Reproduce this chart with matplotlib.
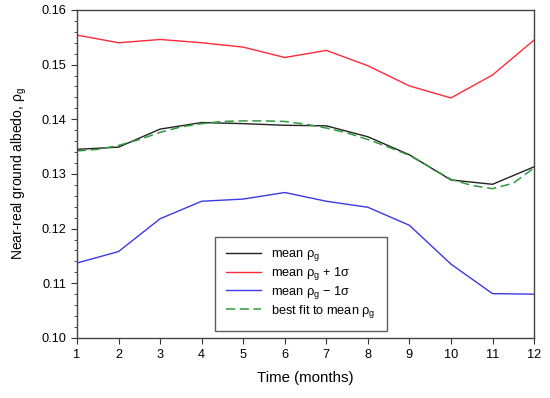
import numpy as np
import matplotlib.pyplot as plt
from matplotlib.ticker import MultipleLocator

plt.rcParams['font.family'] = ['Liberation Sans', 'DejaVu Sans']
plt.rcParams['mathtext.fontset'] = 'custom'
plt.rcParams['mathtext.rm'] = 'Liberation Sans'
plt.rcParams['mathtext.it'] = 'Liberation Sans'

months = np.arange(1, 13)
mean_rho = [0.1345, 0.1349, 0.1382, 0.1394, 0.1392, 0.1389, 0.1388, 0.1368, 0.1335, 0.1289, 0.1281, 0.1313]
plus_sigma = [0.1554, 0.1540, 0.1546, 0.1540, 0.1532, 0.1513, 0.1526, 0.1498, 0.1461, 0.1439, 0.1481, 0.1545]
minus_sigma = [0.1137, 0.1158, 0.1218, 0.1250, 0.1254, 0.1266, 0.1250, 0.1239, 0.1206, 0.1135, 0.1081, 0.1080]

# best fit read at half-month steps
fit_t = np.arange(1, 12.5, 0.5)
fit_rho = [0.1342, 0.1345, 0.1352, 0.1363, 0.1376, 0.1386, 0.1392, 0.1396, 0.1397, 0.1397,
           0.1396, 0.1391, 0.1384, 0.1375, 0.1363, 0.1349, 0.1334, 0.1312, 0.1290, 0.1279,
           0.1273, 0.1283, 0.1311]

fig = plt.figure(figsize=(5.5, 3.98), dpi=100)
ax = fig.add_axes([0.14, 0.151, 0.831, 0.824])

ax.plot(months, mean_rho, color='#222222', lw=1, label=r'mean $\rho_g$')
ax.plot(months, plus_sigma, color='#ff2a3a', lw=1, label=r'mean $\rho_g$ + 1σ')
ax.plot(months, minus_sigma, color='#3a3ae6', lw=1, label=r'mean $\rho_g$ − 1σ')
ax.plot(fit_t, fit_rho, color='#2f9a3c', lw=1.1, ls=(0, (6, 3)), label=r'best fit to mean $\rho_g$')

ax.set_xlim(1, 12)
ax.set_ylim(0.10, 0.16)
ax.set_xticks(months)
ax.yaxis.set_major_locator(MultipleLocator(0.01))
ax.yaxis.set_minor_locator(MultipleLocator(0.002))
ax.yaxis.set_major_formatter(plt.FormatStrFormatter('%.2f'))
ax.tick_params(axis='both', which='major', direction='out', length=4.5, labelsize=9.2, color='#333333')
ax.tick_params(axis='y', which='minor', direction='out', length=2.5, color='#333333')
for s in ax.spines.values():
    s.set_color('#444444')
    s.set_linewidth(1)

ax.set_xlabel('Time (months)', fontsize=10.8, labelpad=7)
ax.set_ylabel(r'Near-real ground albedo, $\rho_g$', fontsize=10, labelpad=9)

leg = ax.legend(loc='lower center', bbox_to_anchor=(0.49, 0.02), fontsize=9.2, frameon=True,
                fancybox=False, edgecolor='#333333', handlelength=2.7, borderpad=0.9,
                labelspacing=0.14, borderaxespad=0, handletextpad=0.8)
leg.get_frame().set_linewidth(1)

plt.savefig('out.png', dpi=100)
